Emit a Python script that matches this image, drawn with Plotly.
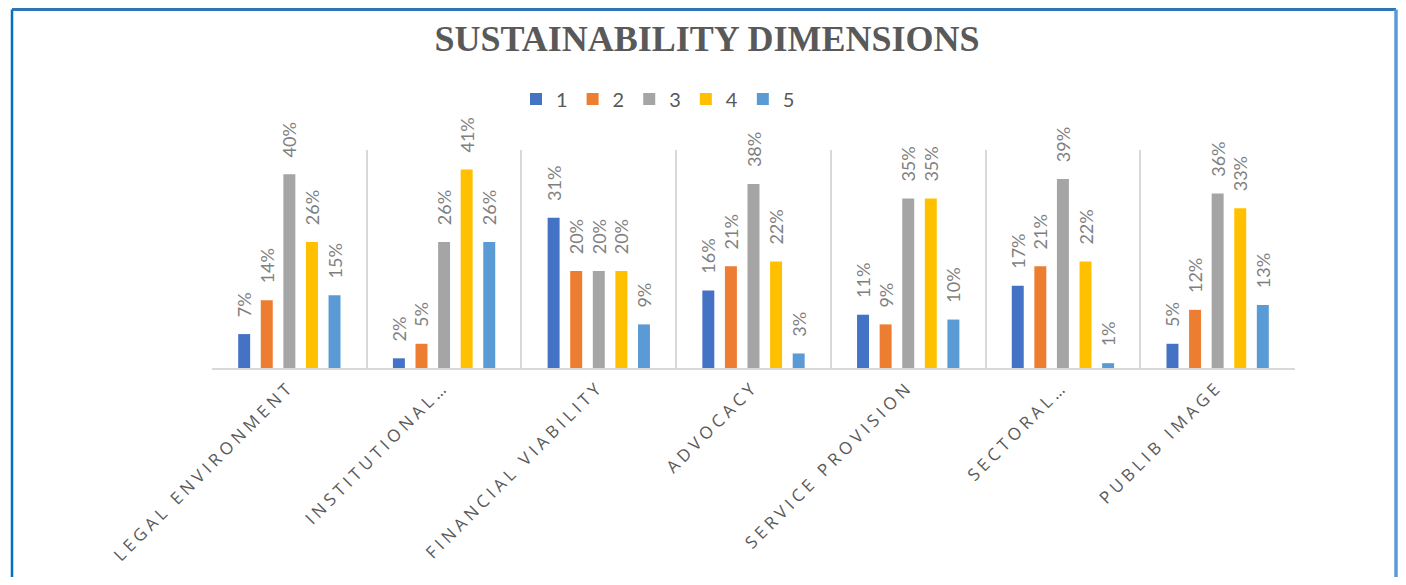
import plotly.graph_objects as go

categories = ["LEGAL ENVIRONMENT", "INSTITUTIONAL…", "FINANCIAL VIABILITY", "ADVOCACY",
              "SERVICE PROVISION", "SECTORAL…", "PUBLIB IMAGE"]
series_names = ["1", "2", "3", "4", "5"]
s1 = [0.07, 0.02, 0.31, 0.16, 0.11, 0.17, 0.05]
s2 = [0.14, 0.05, 0.20, 0.21, 0.09, 0.21, 0.12]
s3 = [0.40, 0.26, 0.20, 0.38, 0.35, 0.39, 0.36]
s4 = [0.26, 0.41, 0.20, 0.22, 0.35, 0.22, 0.33]
s5 = [0.15, 0.26, 0.09, 0.03, 0.10, 0.01, 0.13]
colors = ["#4472C4", "#ED7D31", "#A5A5A5", "#FFC000", "#5B9BD5"]

OX, OY = 8, 8  # page margin around the plot div
W, H = 1406 - 2 * OX, 585 - 2 * OY
# target screen positions of the plot area
PL, PR, PT, PB = 212, 1295, 150, 368
L, T = PL - OX, PT - OY
R = W - (PR - OX)
B = H - (PB - OY)
pw, ph = PR - PL, PB - PT


def px(x):
    return (x - PL) / pw


def py(y):
    return (PB - y) / ph


ticktext = ['<span style="letter-spacing:4.2px">%s</span>' % c for c in categories]

fig = go.Figure()
for name, vals, col in zip(series_names, [s1, s2, s3, s4, s5], colors):
    fig.add_trace(go.Bar(
        x=categories, y=vals, name=name,
        marker=dict(color=col, line=dict(width=0)),
        texttemplate="\u00a0\u00a0\u00a0%{y:.0%}",
        textposition="outside", textangle=-90,
        textfont=dict(family="Lato", size=18, color="#7F7F7F"),
        constraintext="none", cliponaxis=False,
    ))

border = "#2E75B6"
xl, xr, yt, yb = px(12), px(1396), py(9.5), py(640)

fig.update_layout(
    width=W, height=H,
    margin=dict(l=L, r=R, t=T, b=B),
    paper_bgcolor="white", plot_bgcolor="white",
    barmode="group", bargap=0.27, bargroupgap=0.47,
    title=dict(text="SUSTAINABILITY DIMENSIONS", x=(707 - OX) / W, xanchor="center",
               y=1 - (38 - OY) / H, yanchor="middle", yref="container",
               font=dict(family="Liberation Serif", size=36, color="#595959", weight="bold")),
    legend=dict(orientation="h", x=px(658), xanchor="center",
                y=py(99), yanchor="middle",
                font=dict(family="Lato", size=20, color="#595959"),
                bgcolor="rgba(0,0,0,0)"),
    showlegend=True,
    xaxis=dict(tickson="boundaries", showgrid=True, gridcolor="#D9D9D9", gridwidth=1.5,
               showline=True, linecolor="#D9D9D9", linewidth=2, ticks="",
               tickangle=-45, tickmode="array", tickvals=categories, ticktext=ticktext,
               tickfont=dict(family="Open Sans", size=17, color="#595959")),
    yaxis=dict(range=[0, 0.45], showgrid=False, showticklabels=False, zeroline=False,
               showline=False, ticks=""),
    shapes=[
        dict(type="line", xref="paper", yref="paper", x0=xl, x1=xl, y0=yb, y1=yt,
             line=dict(color="#0070C0", width=2.5)),
        dict(type="line", xref="paper", yref="paper", x0=xl, x1=xr, y0=yt, y1=yt,
             line=dict(color=border, width=3)),
        dict(type="line", xref="paper", yref="paper", x0=xr, x1=xr, y0=yb, y1=yt,
             line=dict(color="#5B9BD5", width=3.5)),
    ],
)

fig.write_html("out.html")
